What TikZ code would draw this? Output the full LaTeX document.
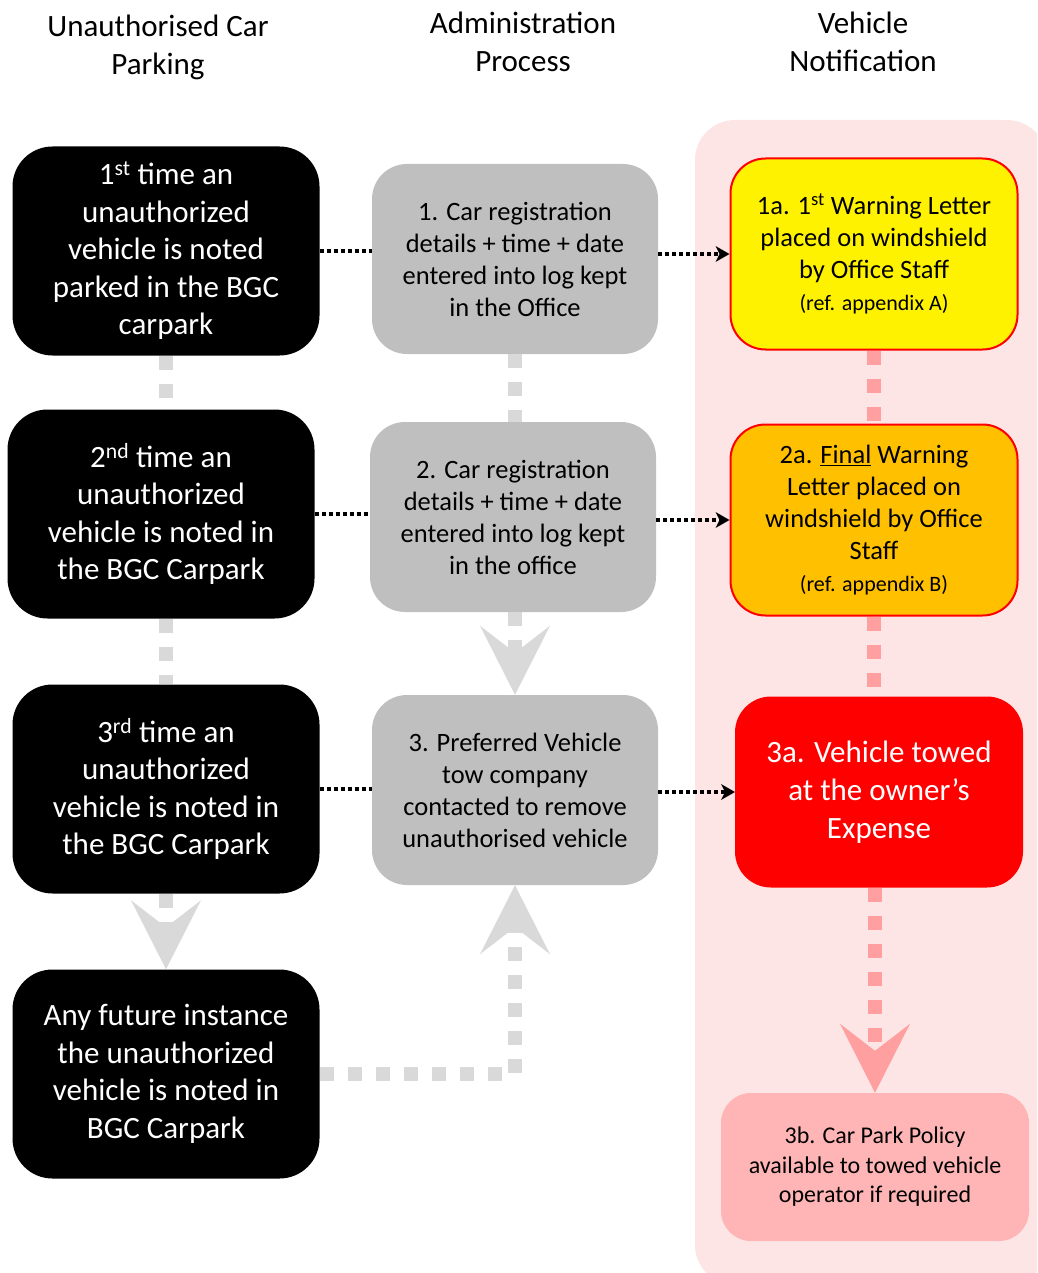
\documentclass[tikz,border=0pt]{standalone}
\usepackage{fontspec}
\setmainfont{Carlito}
\usepackage{tikz}
\usetikzlibrary{arrows.meta}
\definecolor{boxgray}{HTML}{BFBFBF}
\definecolor{linegray}{HTML}{D9D9D9}
\definecolor{panelpink}{HTML}{FDE5E5}
\definecolor{linepink}{HTML}{FF9F9F}
\definecolor{policypink}{HTML}{FFB5B5}
\definecolor{warnorange}{HTML}{FFC000}
\tikzset{
  blackbox/.style={fill=black,text=white,rounded corners=40pt,minimum width=307pt,minimum height=209pt,align=center,font=\fontsize{31}{37.5}\selectfont},
  graybox/.style={fill=boxgray,rounded corners=35pt,minimum width=286pt,minimum height=190pt,align=center,font=\fontsize{26.5}{32}\selectfont},
  notebox/.style={draw=red,line width=2pt,rounded corners=35pt,minimum width=287pt,minimum height=191pt,align=center,font=\fontsize{26.5}{32}\selectfont},
  header/.style={align=center,font=\fontsize{31}{38}\selectfont},
  link/.style={line width=4pt,dash pattern=on 4pt off 3pt},
  linkarrow/.style={link,-{Stealth[length=14pt,width=16pt,inset=4pt,line width=0pt]}},
  flow/.style={line width=14pt,dash pattern=on 14pt off 14pt},
  bigtip/.style={-{Stealth[length=69pt,width=70pt,inset=27pt,line width=0pt]}}
}

\begin{document}
\begin{tikzpicture}[x=1pt,y=-1pt]
  \useasboundingbox (0,0) rectangle (1037,1273);
  \clip (0,0) rectangle (1037,1273);
  % pink panel behind the notification column
  \fill[panelpink,rounded corners=40pt] (695,120) rectangle (1047,1285);

  \node[header] (H1) at (158,47) {Unauthorised Car\\Parking};
  \node[header] (H2) at (523,42) {Administration\\Process};
  \node[header] (H3) at (863,42) {Vehicle\\Notification};

  \node[blackbox] (L1) at (166,251) {1\textsuperscript{st} time an\\unauthorized\\vehicle is noted\\parked in the BGC\\carpark};
  \node[blackbox] (L2) at (161,514) {2\textsuperscript{nd} time an\\unauthorized\\vehicle is noted in\\the BGC Carpark};
  \node[blackbox] (L3) at (166,789) {3\textsuperscript{rd} time an\\unauthorized\\vehicle is noted in\\the BGC Carpark};
  \node[blackbox] (L4) at (166,1074) {Any future instance\\the unauthorized\\vehicle is noted in\\BGC Carpark};

  \node[graybox] (M1) at (515,259) {1. Car registration\\details + time + date\\entered into log kept\\in the Office};
  \node[graybox] (M2) at (513,517) {2. Car registration\\details + time + date\\entered into log kept\\in the office};
  \node[graybox] (M3) at (515,790) {3. Preferred Vehicle\\tow company\\contacted to remove\\unauthorised vehicle};

  \node[notebox,fill=yellow] (R1) at (874,254) {1a. 1\textsuperscript{st} Warning Letter\\placed on windshield\\by Office Staff\\{\fontsize{22}{27}\selectfont (ref. appendix A)}};
  \node[notebox,fill=warnorange] (R2) at (874,520) {2a. \underline{Final} Warning\\Letter placed on\\windshield by Office\\Staff\\{\fontsize{22}{27}\selectfont (ref. appendix B)}};
  \node[notebox,fill=red,text=white,minimum width=286pt,minimum height=189pt,font=\fontsize{31}{38}\selectfont] (R3) at (879,792) {3a. Vehicle towed\\at the owner’s\\Expense};
  \node[fill=policypink,rounded corners=30pt,minimum width=308pt,minimum height=148pt,align=center,font=\fontsize{24}{29.5}\selectfont] (R4) at (875,1167) {3b. Car Park Policy\\available to towed vehicle\\operator if required};

  % dotted links between the columns
  \draw[link] (L1.east) -- (L1.east -| M1.west);
  \draw[linkarrow] (R1.west -| M1.east) -- (R1.west);
  \draw[link] (L2.east) -- (L2.east -| M2.west);
  \draw[linkarrow] (R2.west -| M2.east) -- (R2.west);
  \draw[link] (L3.east) -- (L3.east -| M3.west);
  \draw[linkarrow] (R3.west -| M3.east) -- (R3.west);

  % flow down the columns
  \draw[flow,linegray] (L1.south) -- (L1.south |- L2.north);
  \draw[flow,linegray] (L3.north |- L2.south) -- (L3.north);
  \draw[flow,linegray,bigtip] (L3.south) -- (L4.north);
  \draw[flow,linegray] (M1.south) -- (M1.south |- M2.north);
  \draw[flow,linegray,bigtip] (M1.south |- M2.south) -- (M3.north);
  \draw[flow,linegray,bigtip] (L4.east) -- (L4.east -| M3.south) -- (M3.south);
  \draw[flow,linepink] (R1.south) -- (R1.south |- R2.north);
  \draw[flow,linepink] (R2.south) -- (R2.south |- R3.north);
  \draw[flow,linepink,bigtip] (R4.north |- R3.south) -- (R4.north);
\end{tikzpicture}
\end{document}
